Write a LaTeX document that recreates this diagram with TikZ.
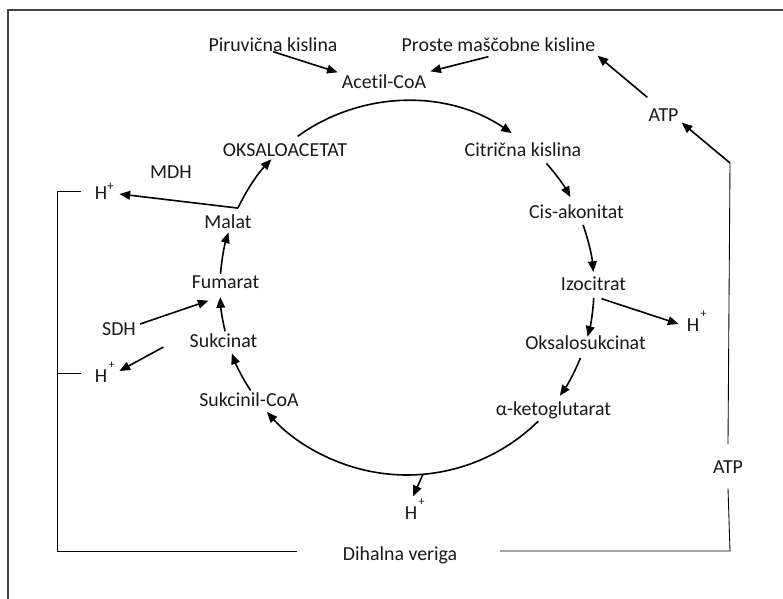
\documentclass[tikz,border=0pt]{standalone}
\usepackage{fontspec}
\setmainfont{Carlito}[Ligatures={NoCommon,NoContextual}]
\usetikzlibrary{arrows.meta,calc}
\begin{document}
\begin{tikzpicture}[x=0.75pt,y=-0.75pt,
  lbl/.style={inner sep=0pt,text height=9.6pt,text depth=0pt,font=\fontsize{14.9}{17}\selectfont,text=black!90},
  arr/.style={line width=1.2pt,-{Triangle[length=8pt,width=6.5pt]}},
  ln/.style={line width=0.65pt},
  frm/.style={line width=1.5pt,draw={rgb,255:red,68;green,68;blue,68}}]
\useasboundingbox (0,0) rectangle (783,599);
% frame
\draw[frm] (7.5,599) -- (7.5,10) -- (783,10);
% text nodes
\node[lbl] (pir) at (273,45) {Piruvična kislina};
\node[lbl] (pmk) at (498.5,45) {Proste maščobne kisline};
\node[lbl] (acetil) at (384,82) {Acetil-CoA};
\node[lbl] (oksalo) at (285,150) {OKSALOACETAT};
\node[lbl] (mdh) at (171,172) {MDH};
\node[lbl] (hA) at (101,193) {H\rlap{\raisebox{0.45em}{\fontsize{10}{10}\selectfont +}}};
\node[lbl] (malat) at (228,222) {Malat};
\node[lbl] (fumarat) at (225.5,282) {Fumarat};
\node[lbl] (sdh) at (119,329) {SDH};
\node[lbl] (sukcinat) at (223.5,341) {Sukcinat};
\node[lbl] (hB) at (101,376) {H\rlap{\kern1pt\raisebox{0.72em}{\fontsize{9}{9}\selectfont +}}};
\node[lbl] (sukcinil) at (249,400) {Sukcinil-CoA};
\node[lbl] (citr) at (523,150) {Citrična kislina};
\node[lbl] (cis) at (576.5,212) {Cis-akonitat};
\node[lbl] (izo) at (593.5,284) {Izocitrat};
\node[lbl] (hC) at (693,325) {H\rlap{\kern1pt\raisebox{0.72em}{\fontsize{9}{9}\selectfont +}}};
\node[lbl] (oksu) at (585.5,343) {Oksalosukcinat};
\node[lbl] (aketo) at (553.5,409) {α-ketoglutarat};
\node[lbl] (hD) at (411,513) {H\rlap{\kern1pt\raisebox{0.72em}{\fontsize{9}{9}\selectfont +}}};
\node[lbl] (dihal) at (400,554) {Dihalna veriga};
\node[lbl] (atp1) at (663.5,115) {ATP};
\node[lbl] (atp2) at (728,467) {ATP};
% cycle centre
\coordinate (O) at (407,288);
\def\R{140.25pt}
% cycle arcs
\draw[arr] ([shift={(125.8:\R)}]O) arc[start angle=125.8,end angle=55.9,radius=\R];
\draw[arr] ([shift={(41.8:\R)}]O) arc[start angle=41.8,end angle=29.1,radius=\R];
\draw[arr] ([shift={(19.7:\R)}]O) arc[start angle=19.7,end angle=4.9,radius=\R];
\draw[arr] ([shift={(-3.1:\R)}]O) arc[start angle=-3.1,end angle=-15.1,radius=\R];
\draw[arr] ([shift={(-22:\R)}]O) arc[start angle=-22,end angle=-35.2,radius=\R];
\draw[arr] ([shift={(-45.4:\R)}]O) arc[start angle=-45.4,end angle=-138.5,radius=\R];
\draw[arr] ([shift={(213.2:\R)}]O) arc[start angle=213.2,end angle=200.5,radius=\R];
\draw[arr] ([shift={(193.4:\R)}]O) arc[start angle=193.4,end angle=182.8,radius=\R];
\draw[arr] ([shift={(175.7:\R)}]O) arc[start angle=175.7,end angle=162.7,radius=\R];
\draw[arr] ([shift={(154.7:\R)}]O) arc[start angle=154.7,end angle=136.5,radius=\R];
% side arrows
\draw[arr] (pir.south) -- ([shift={(-4,-3)}]acetil.north west);
\draw[arr] ([shift={(-10,5)}]pmk.south) -- ([shift={(4,-4)}]acetil.north east);
\draw[arr] ([shift={(-1,-11)}]atp1.north west) -- ([shift={(2,4)}]pmk.south east);
\draw[arr] ([shift={(154.7:\R)}]O) -- ([shift={(12,1)}]hA.east);
\draw[arr] ([shift={(8,8)}]izo.south) -- ([shift={(-8,-1)}]hC.west);
\draw[arr] ([shift={(4,-5)}]sdh.east) -- ([shift={(-17,12)}]fumarat.south);
\draw[arr] ([shift={(-26,6)}]sukcinat.west) -- ([shift={(12,-5)}]hB.east);
\draw[arr] ([shift={(-85.1:\R)}]O) -- ([shift={(2,-10)}]hD.north);
% respiratory chain lines
\coordinate (rc) at (730,163);
\draw[ln] ([shift={(-14,-2)}]hA.west) -- (57,191) -- (57,551) -- (297,551);
\draw[ln] ([shift={(-14,-3)}]hB.west) -- (57,373);
\draw[ln] (500,551) -- (730,551) -- ([yshift=-16]atp2.center);
\draw[ln] ([yshift=17]atp2.center) -- (rc);
\draw[arr] (rc) -- ([shift={(3,1)}]atp1.south east);
\end{tikzpicture}
\end{document}
